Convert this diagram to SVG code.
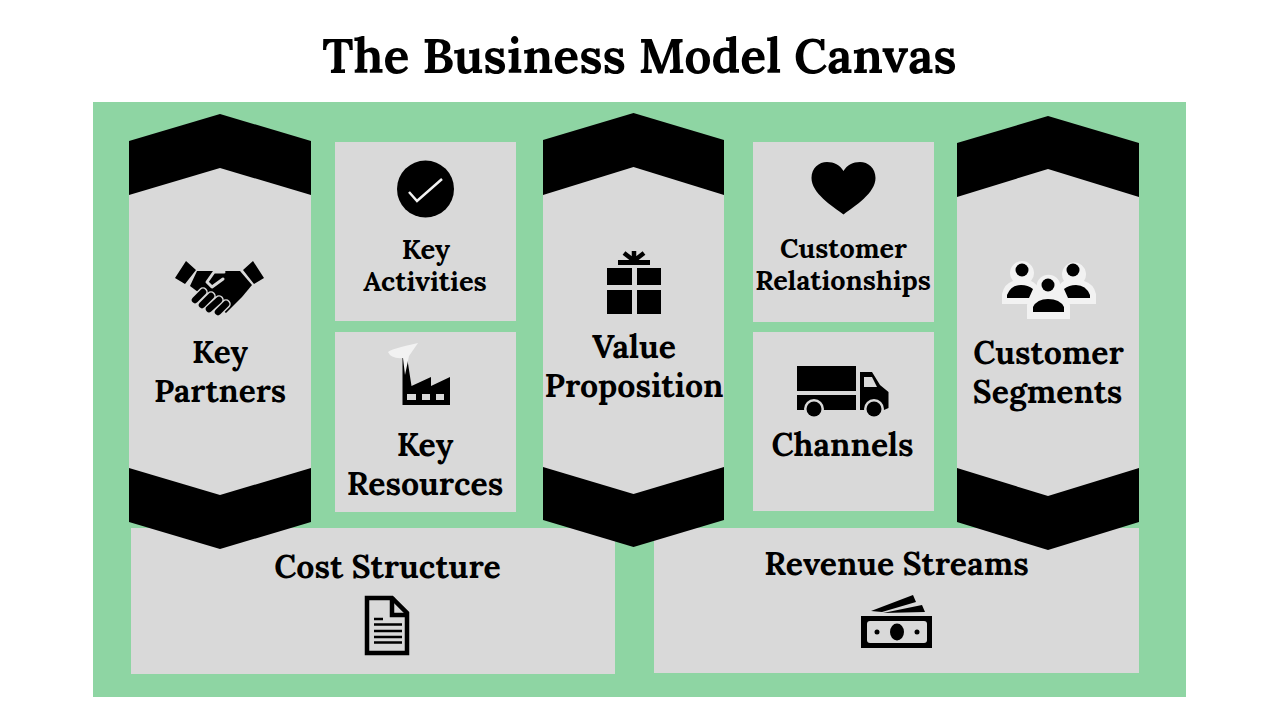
<svg xmlns="http://www.w3.org/2000/svg" width="1280" height="720" viewBox="0 0 1280 720">
<style>
.g{fill:#d9d9d9}.k{fill:#000}.w{fill:#f2f2f2}
.gl{fill:none;stroke:#d9d9d9;stroke-linecap:round;stroke-linejoin:round}
.kl{fill:none;stroke:#000;stroke-linecap:round;stroke-linejoin:round}
text{font-family:"Lora","Liberation Serif","DejaVu Serif",serif;font-weight:700;fill:#000;text-anchor:middle}
.t{font-size:48.200px}.l{font-size:32px}.m{font-size:27.300px}
</style>
<rect width="1280" height="720" fill="#fff"/>
<text class="t" x="639.500" y="73">The Business Model Canvas</text>
<rect x="93" y="102" width="1093" height="595" fill="#8ed5a3"/>

<g id="cost-structure"><rect class="g" x="131" y="528" width="484" height="146"/>
<text class="l" x="387.500" y="577.500">Cost Structure</text>
<path d="M367 598H392L407 613V653H367Z" fill="none" stroke="#000" stroke-width="4.500"/>
<path d="M392 597V615H408" fill="none" stroke="#000" stroke-width="4.500"/>
<path d="M374 619H383M374 624.500H402M374 631H402M374 637H402M374 642.500H402" fill="none" stroke="#000" stroke-width="2.500"/></g>

<g id="revenue-streams"><rect class="g" x="654" y="528" width="485" height="145"/>
<text class="l" x="896.500" y="575">Revenue Streams</text>
<path class="k" d="M871 611L913 595L916 602L882 612ZM883 613L922 605L925 612L883 613Z"/>
<rect class="k" x="861" y="616" width="71" height="32"/>
<rect class="g" x="867" y="621" width="60" height="22" rx="3"/>
<ellipse class="k" cx="897" cy="632" rx="7" ry="8.500"/>
<circle class="k" cx="877" cy="632" r="2.500"/><circle class="k" cx="917" cy="632" r="2.500"/></g>

<g id="key-partners"><path class="k" d="M129 141L220 114L311 141V522L220 549L129 522Z"/><path class="g" d="M129 195L220 168L311 195V468L220 495L129 468Z"/>
<path class="k" d="M186 261L196 270L185 284L175 278ZM253 261L264 278L254 284L243 270Z"/>
<path class="k" d="M197 271H240L252 285L242 297L226 313L190 286Z"/>
<path class="gl" stroke-width="3" d="M224 272H214L207 282L212 287L223 279"/>
<path d="M195 300L203 292M202 305L211 296M209 309L219 300M218 312L226 304" fill="none" stroke="#d9d9d9" stroke-width="9.500" stroke-linecap="round"/>
<path class="kl" stroke-width="6.500" d="M195 300L203 292M202 305L211 296M209 309L219 300M218 312L226 304"/>
<text class="l" x="220" y="363" style="font-size:31.600px">Key</text><text class="l" x="220" y="402" style="font-size:31.600px">Partners</text></g>

<g id="key-activities"><rect class="g" x="335" y="142" width="181" height="179"/>
<circle class="k" cx="425.500" cy="189" r="28.500"/>
<path d="M409 192L417 201L442 179" fill="none" stroke="#f2f2f2" stroke-width="2.500"/>
<text class="m" x="426" y="259">Key</text><text class="m" x="425" y="291">Activities</text></g>

<g id="key-resources"><rect class="g" x="335" y="332" width="181" height="180"/>
<path class="k" d="M402.500 357H407L411.500 386L431 377V386L450 377V405H402.500Z"/>
<path class="g" d="M407 394H416V400H407ZM422 394H430V400H422ZM436 394H444V400H436Z"/>
<path class="w" d="M388 352Q391 349 418 343L409 356L405 375L403 358Q391 359 388 352Z"/>
<text class="l" x="425" y="455.500">Key</text><text class="l" x="425" y="494.500">Resources</text></g>

<g id="value-proposition"><path class="k" d="M543 140L633.500 113L724 140V520L633.500 547L543 520Z"/><path class="g" d="M543 195L633.500 167L724 195V467L633.500 494L543 467Z"/>
<path class="k" d="M618 260H650V265H618ZM607 268H632V285H607ZM637 268H661V285H637ZM607 290H632V314H607ZM637 290H661V314H637Z"/>
<path d="M634 260V251M633 260L624 253M635 260L644 253" fill="none" stroke="#000" stroke-width="4.500"/>
<text class="l" x="634" y="357.500">Value</text><text class="l" x="634" y="396.500">Proposition</text></g>

<g id="customer-relationships"><rect class="g" x="753" y="142" width="181" height="180"/>
<path class="k" d="M843.500 214.500C832 206 811.500 193 811.500 178C811.500 168 819 162 827 162C834 162 840 165 843.500 171C847 165 853 162 860 162C868 162 875.500 168 875.500 178C875.500 193 855 206 843.500 214.500Z"/>
<text class="m" x="843.500" y="258" style="font-size:27px">Customer</text><text class="m" x="843" y="290" style="font-size:27px">Relationships</text></g>

<g id="channels"><rect class="g" x="753" y="332" width="181" height="179"/>
<path class="k" d="M797 366H856V391H797ZM797 395H856V410H797ZM860 372H872L880 385L888.500 392V408L884 410H860Z"/>
<path class="g" d="M864 377H872L877 387H864Z"/>
<circle class="g" cx="814" cy="409" r="10"/><circle class="g" cx="874" cy="409" r="10"/>
<circle class="k" cx="814" cy="409" r="7.500"/><circle class="k" cx="874" cy="409" r="7.500"/>
<text class="l" x="842.500" y="455.500">Channels</text></g>

<g id="customer-segments"><path class="k" d="M957 143L1048 116L1139 143V522L1048 550L957 522Z"/><path class="g" d="M957 197L1048 169L1139 197V468L1048 496L957 468Z"/>
<path class="w" d="M1002 304V294Q1004 284 1013 281A12 12 0 1 1 1031 281Q1036 283 1040 290L1036 304ZM1096 304V294Q1094 284 1084 281A12 12 0 1 0 1064 281Q1060 283 1056 290L1060 304Z"/>
<path class="k" d="M1007 298V295Q1011 285 1021 285Q1028 285 1033 289L1029 298ZM1090 298V295Q1086 285 1076 285Q1069 285 1064 289L1068 298Z"/>
<circle class="k" cx="1022" cy="270" r="6.500"/><circle class="k" cx="1073" cy="270" r="6.500"/>
<path class="w" d="M1027 319V305Q1029 296 1039 294A12 12 0 1 1 1058 294Q1068 296 1070 305V319Z"/>
<circle class="k" cx="1048" cy="285" r="6.500"/>
<path class="k" d="M1033 312V307Q1037 299 1048 299Q1060 299 1064 307V312Z"/>
<text class="l" x="1048.500" y="363.500">Customer</text><text class="l" x="1047.500" y="402.500">Segments</text></g>
</svg>
